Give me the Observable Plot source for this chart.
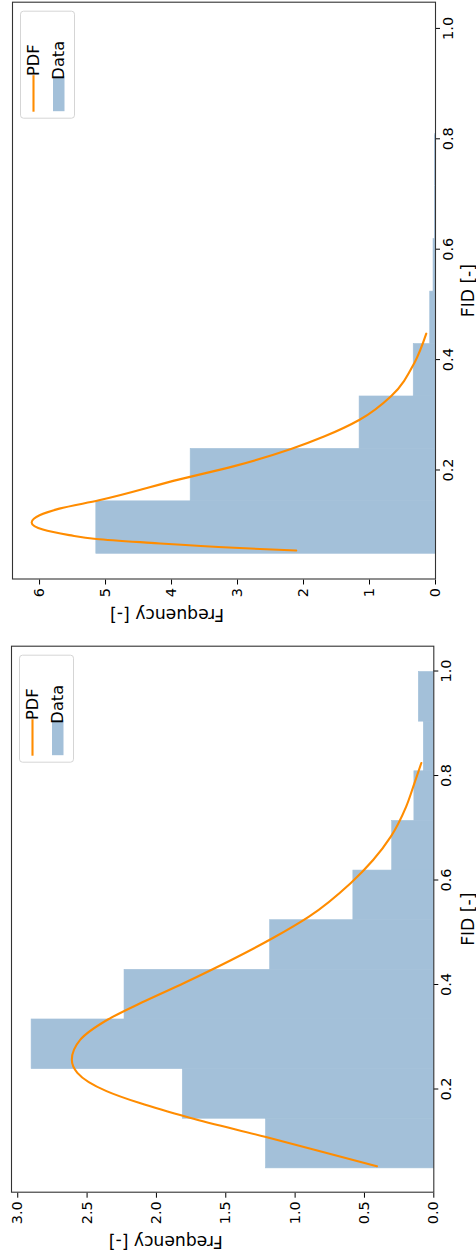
<!DOCTYPE html>
<html><head><meta charset="utf-8">
<script src="https://cdn.jsdelivr.net/npm/d3@7"></script>
<script src="https://cdn.jsdelivr.net/npm/@observablehq/plot@0.6"></script>
<style>
html,body{margin:0;padding:0;background:#fff;overflow:hidden;width:476px;height:1259px;}
#fig{position:absolute;left:0;top:0;width:1259px;height:476px;transform-origin:0 0;transform:translate(0,1259px) rotate(-90deg);}
#fig svg{position:absolute;top:0;max-width:none;}
</style></head><body><div id="fig"></div>
<script>
// ---- data ----
const binEdges = [0.05, 0.145, 0.24, 0.335, 0.43, 0.525, 0.62, 0.715, 0.81, 0.905, 1.0];
const leftHeights = [1.21, 1.81, 2.90, 2.23, 1.18, 0.58, 0.30, 0.14, 0.072, 0.108];
const rightHeights = [5.14, 3.71, 1.15, 0.33, 0.08, 0.03, 0.01, 0.01, 0, 0];

const leftPdfFid  = [0.052, 0.081, 0.108, 0.145, 0.173, 0.196, 0.231, 0.256, 0.294, 0.333, 0.365, 0.403, 0.447, 0.489, 0.530, 0.594, 0.683, 0.740, 0.785, 0.824];
const leftPdfFreq = [0.41, 0.82, 1.21, 1.76, 2.12, 2.36, 2.57, 2.61, 2.55, 2.35, 2.11, 1.80, 1.46, 1.16, 0.90, 0.60, 0.31, 0.20, 0.14, 0.09];

const rightPdfFid  = [0.054, 0.059, 0.068, 0.075, 0.082, 0.092, 0.105, 0.118, 0.130, 0.145, 0.183, 0.207, 0.238, 0.261, 0.291, 0.334, 0.394, 0.447];
const rightPdfFreq = [2.11, 3.05, 4.31, 5.14, 5.55, 5.95, 6.12, 6.00, 5.70, 5.10, 3.88, 3.05, 2.19, 1.68, 1.15, 0.67, 0.32, 0.14];

const fidTicks = [0.2, 0.4, 0.6, 0.8, 1.0];
const leftFreqTicks = [0, 0.5, 1.0, 1.5, 2.0, 2.5, 3.0];
const rightFreqTicks = [0, 1, 2, 3, 4, 5, 6];
const legendLabels = ["PDF", "Data"];
const xLabel = "FID [-]";
const yLabel = "Frequency [-]";

const BAR = "#a3c0d9", LINE = "#ff8c00";
const FONT = "'DejaVu Sans', sans-serif";
const TICK_FS = "14.5px", LABEL_FS = "17.2px", LEG_FS = "16.3px";

function panel(o) {
  const bins = o.heights.map((h, i) => ({x1: binEdges[i], x2: binEdges[i + 1], h}));
  const pdf = o.pdfFid.map((f, i) => ({fid: f, freq: o.pdfFreq[i]}));
  const svg = Plot.plot({
    width: o.width, height: 476,
    marginLeft: o.ml, marginRight: o.mr, marginTop: o.mt, marginBottom: o.mb,
    style: {fontFamily: FONT, fontSize: TICK_FS, color: "black", background: "transparent", overflow: "visible"},
    x: {domain: [0.0025, 1.0475], ticks: fidTicks, tickFormat: d3.format(".1f"), tickSize: 5, tickPadding: 2, label: null},
    y: {domain: [0, o.freqMax], ticks: o.freqTicks, tickFormat: o.fmt, tickSize: 5, tickPadding: 4, label: null},
    marks: [
      Plot.rectY(bins, {x1: "x1", x2: "x2", y: "h", fill: BAR, stroke: BAR, strokeWidth: 0.6}),
      Plot.line(pdf, {x: "fid", y: "freq", stroke: LINE, strokeWidth: 2.1, curve: "monotone-x"}),
      Plot.frame({stroke: "#333", strokeWidth: 1.1}),
      Plot.text([xLabel], {frameAnchor: "bottom", dy: o.xdy, lineAnchor: "middle", fontSize: 17.2, fill: "black"}),
      Plot.text([yLabel], {frameAnchor: "left", dx: o.ydx, rotate: -90, lineAnchor: "middle", fontSize: 17.2, fill: "black"})
    ]
  });
  svg.style.left = o.left + "px";
  svg.style.maxWidth = "none";
  svg.querySelectorAll("text").forEach(t => {
    const s = t.textContent;
    t.style.fontFamily = FONT;
    t.style.fontSize = (s === xLabel || s === yLabel) ? LABEL_FS : TICK_FS;
  });
  // legend
  const frameRight = o.width - o.mr;
  const bx = frameRight - 115.5, by = o.mt + 8.5, bw = 107, bh = 54;
  const g = d3.select(svg).append("g");
  g.append("rect").attr("x", bx).attr("y", by).attr("width", bw).attr("height", bh)
    .attr("rx", 3).attr("fill", "white").attr("fill-opacity", 0.8).attr("stroke", "#d5d5d5").attr("stroke-width", 1);
  g.append("line").attr("x1", bx + 6.5).attr("x2", bx + 43).attr("y1", by + 13).attr("y2", by + 13)
    .attr("stroke", LINE).attr("stroke-width", 2.1);
  g.append("rect").attr("x", bx + 7).attr("y", by + 32.5).attr("width", 35).attr("height", 11.5)
    .attr("fill", BAR);
  legendLabels.forEach((t, i) => {
    g.append("text").attr("x", bx + 58).attr("y", by + 13 + i * 25).attr("dy", "0.35em")
      .style("font-family", FONT).style("font-size", LEG_FS).attr("fill", "black").text(t);
  });
  document.getElementById("fig").appendChild(svg);
}

panel({heights: leftHeights, pdfFid: leftPdfFid, pdfFreq: leftPdfFreq, freqTicks: leftFreqTicks,
  fmt: d3.format(".1f"), freqMax: 3.045, width: 630, left: 0, ml: 66.3, mr: 17.7, mt: 11, mb: 42.7, xdy: 34.5, ydx: -49});
panel({heights: rightHeights, pdfFid: rightPdfFid, pdfFreq: rightPdfFreq, freqTicks: rightFreqTicks,
  fmt: d3.format("d"), freqMax: 6.41, width: 630, left: 629, ml: 50.5, mr: 2.7, mt: 12, mb: 41, xdy: 33, ydx: -35.5});
</script></body></html>
